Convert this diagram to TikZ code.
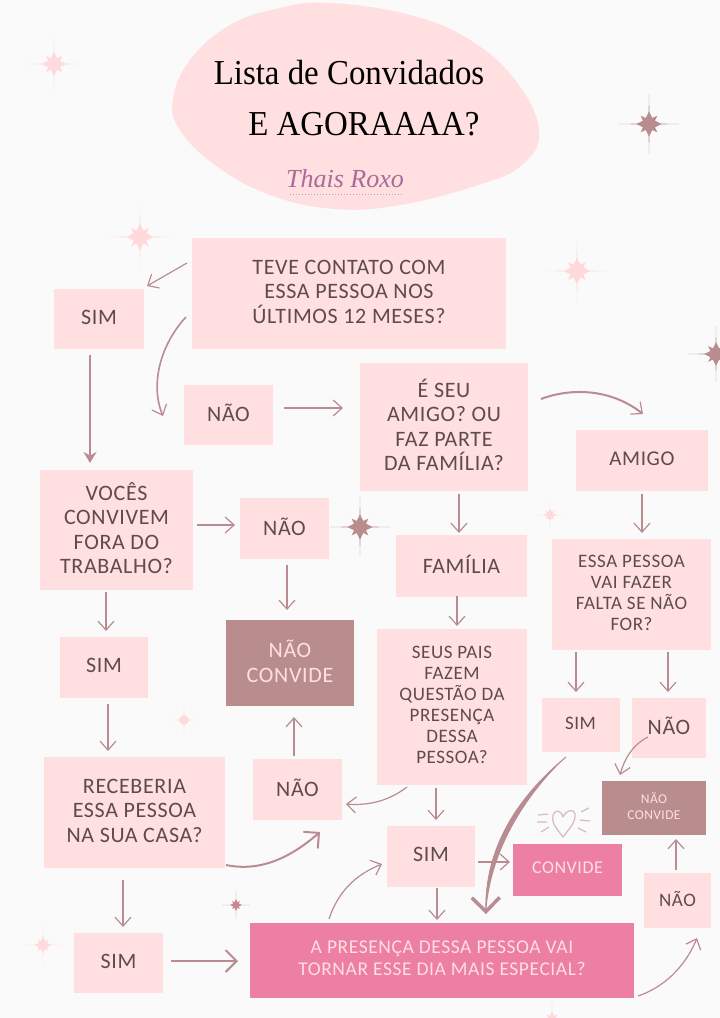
\documentclass[tikz,border=0pt]{standalone}
\usepackage{fontspec}
\setmainfont[LetterSpace=3]{Carlito}
\newfontfamily\titlefont{Liberation Serif}
\newfontfamily\logofont{Liberation Serif}
\definecolor{paper}{HTML}{FBFAFA}
\definecolor{blush}{HTML}{FFDFE0}
\definecolor{dusty}{HTML}{B98D8D}
\definecolor{hotpink}{HTML}{EC7FA3}
\definecolor{ink}{HTML}{5E4B4E}
\definecolor{wire}{HTML}{B98C92}
\definecolor{palestar}{HTML}{FFD9DC}
\usetikzlibrary{arrows.meta}
\tikzset{
  card/.style={fill=blush, text=ink, align=center, inner sep=0pt, font=\fontsize{22}{24.5}\selectfont, execute at end node={\\[-\baselineskip]\rule[-4pt]{0pt}{4pt}}},
  smallcard/.style={card, font=\fontsize{19}{21}\selectfont},
  nogo/.style={card, fill=dusty, text=blush},
  yesgo/.style={card, fill=hotpink, text=blush},
  link/.style={draw=wire, line width=1.2pt, -{Straight Barb[length=9pt,width=16pt,line width=1.2pt]}},
  boldlink/.style={link, line width=2pt, -{Straight Barb[length=11pt,width=22pt,line width=2pt]}},
}
% one four-pointed sparkle: x, y, arm, colour
\newcommand{\sparkle}[4]{
  \fill[#4] (#1,#2-#3) .. controls (#1+#3*0.015,#2-#3*0.3) and (#1+#3*0.02,#2-#3*0.03) .. (#1+#3*0.03,#2-#3*0.02)
    .. controls (#1+#3*0.3,#2-#3*0.015) and (#1+#3*0.3,#2-#3*0.015) .. (#1+#3,#2)
    .. controls (#1+#3*0.3,#2+#3*0.015) and (#1+#3*0.3,#2+#3*0.015) .. (#1+#3*0.03,#2+#3*0.02)
    .. controls (#1+#3*0.015,#2+#3*0.3) and (#1+#3*0.015,#2+#3*0.3) .. (#1,#2+#3)
    .. controls (#1-#3*0.015,#2+#3*0.3) and (#1-#3*0.015,#2+#3*0.3) .. (#1-#3*0.03,#2+#3*0.02)
    .. controls (#1-#3*0.3,#2+#3*0.015) and (#1-#3*0.3,#2+#3*0.015) .. (#1-#3,#2)
    .. controls (#1-#3*0.3,#2-#3*0.015) and (#1-#3*0.3,#2-#3*0.015) .. (#1-#3*0.03,#2-#3*0.02)
    .. controls (#1-#3*0.015,#2-#3*0.3) and (#1-#3*0.015,#2-#3*0.3) .. (#1,#2-#3) -- cycle;
  \fill[#4] (#1,#2-#3*0.42) -- (#1+#3*0.11,#2-#3*0.2) -- (#1+#3*0.28,#2-#3*0.28) -- (#1+#3*0.2,#2-#3*0.11)
    -- (#1+#3*0.42,#2) -- (#1+#3*0.2,#2+#3*0.11) -- (#1+#3*0.28,#2+#3*0.28) -- (#1+#3*0.11,#2+#3*0.2)
    -- (#1,#2+#3*0.42) -- (#1-#3*0.11,#2+#3*0.2) -- (#1-#3*0.28,#2+#3*0.28) -- (#1-#3*0.2,#2+#3*0.11)
    -- (#1-#3*0.42,#2) -- (#1-#3*0.2,#2-#3*0.11) -- (#1-#3*0.28,#2-#3*0.28) -- (#1-#3*0.11,#2-#3*0.2) -- cycle;
}
\begin{document}
\begin{tikzpicture}[x=1pt,y=-1pt]
\fill[paper] (0,0) rectangle (720,1018);
\useasboundingbox (0,0) rectangle (720,1018);
\begin{scope}
\clip (0,0) rectangle (720,1018);
\sparkle{54}{64}{29}{palestar}
\sparkle{649}{124}{30}{dusty}
\sparkle{140}{237}{32}{palestar}
\sparkle{577}{271}{32}{palestar}
\sparkle{716}{354}{28}{dusty}
\sparkle{360}{527}{30}{dusty}
\sparkle{550}{515}{15}{palestar}
\sparkle{184}{720}{15}{palestar}
\sparkle{236}{905}{14}{dusty!75!hotpink}
\sparkle{43}{945}{20}{palestar}
\sparkle{552}{1020}{20}{palestar}
\end{scope}
% title blob
\fill[blush] plot[smooth cycle, tension=.7] coordinates {(330,3) (410,15) (470,40) (515,80) (539,130) (522,165) (475,186) (400,205) (335,209) (270,195) (215,165) (180,130) (173,100) (190,60) (230,25) (280,8)};
\node[font=\titlefont\fontsize{35}{35}\selectfont, text=black, xscale=.94] (title) at (349,73) {Lista de Convidados};
\node[font=\titlefont\fontsize{35}{35}\selectfont, text=black, xscale=.94] (again) at (364,124) {E AGORAAAA?};
\node[font=\logofont\itshape\fontsize{26}{26}\selectfont, text=ink!40!violet!60!blush] (logo) at (345,179) {Thais Roxo};
\draw[ink!50, line width=1pt, dotted] (290,194) -- (402,194);
% boxes
\node[card, minimum width=314pt, minimum height=111pt] (contact) at (349,293.5) {TEVE CONTATO COM\\ESSA PESSOA NOS\\ÚLTIMOS 12 MESES?};
\node[card, minimum width=90pt, minimum height=60pt] (simA) at (99,319) {SIM};
\node[card, minimum width=89pt, minimum height=60pt] (naoA) at (228.5,415) {NÃO};
\node[card, minimum width=168pt, minimum height=128pt] (friend) at (444,427) {É SEU\\AMIGO? OU\\FAZ PARTE\\DA FAMÍLIA?};
\node[card, font=\fontsize{21}{24.5}\selectfont, minimum width=132pt, minimum height=61pt] (amigo) at (642,460.5) {AMIGO};
\node[card, minimum width=153pt, minimum height=120pt] (together) at (116.5,530) {VOCÊS\\CONVIVEM\\FORA DO\\TRABALHO?};
\node[card, minimum width=89pt, minimum height=61pt] (naoB) at (284.5,528.5) {NÃO};
\node[card, minimum width=131pt, minimum height=62pt] (familia) at (461.5,566) {FAMÍLIA};
\node[smallcard, minimum width=159pt, minimum height=111pt] (missed) at (631.5,594.5) {ESSA PESSOA\\VAI FAZER\\FALTA SE NÃO\\FOR?};
\node[card, minimum width=88pt, minimum height=61pt] (simB) at (104,667.5) {SIM};
\node[nogo, minimum width=128pt, minimum height=86pt] (dontA) at (290,663) {NÃO\\CONVIDE};
\node[smallcard, minimum width=150pt, minimum height=156pt] (parents) at (452,707) {SEUS PAIS\\FAZEM\\QUESTÃO DA\\PRESENÇA\\DESSA\\PESSOA?};
\node[card, font=\fontsize{19}{21}\selectfont, minimum width=78pt, minimum height=54pt] (simC) at (580.5,725) {SIM};
\node[card, minimum width=74pt, minimum height=60pt] (naoC) at (669,728) {NÃO};
\node[nogo, font=\fontsize{13.5}{16}\selectfont, minimum width=104pt, minimum height=54pt] (dontB) at (654,808) {NÃO\\CONVIDE};
\node[yesgo, font=\fontsize{18}{22}\selectfont, minimum width=109pt, minimum height=52pt] (invite) at (567.5,870) {CONVIDE};
\node[card, font=\fontsize{19}{21}\selectfont, minimum width=67pt, minimum height=55pt] (naoD) at (677.5,900.5) {NÃO};
\node[card, minimum width=89pt, minimum height=61pt] (naoE) at (297.5,789.5) {NÃO};
\node[card, minimum width=181pt, minimum height=111pt] (home) at (134.5,812.5) {RECEBERIA\\ESSA PESSOA\\NA SUA CASA?};
\node[card, minimum width=89pt, minimum height=60pt] (simD) at (118.5,963) {SIM};
\node[card, minimum width=88pt, minimum height=61pt] (simE) at (431,856.5) {SIM};
\node[yesgo, font=\fontsize{19.5}{22}\selectfont, minimum width=384pt, minimum height=75pt] (special) at (442,960.5) {A PRESENÇA DESSA PESSOA VAI\\TORNAR ESSE DIA MAIS ESPECIAL?};
% heart
\draw[wire!60, line width=1.2pt, line join=round] (563,837) .. controls (556,828) and (551,822) .. (553,815) .. controls (555,809) and (561,810) .. (563,817) .. controls (566,810) and (574,808) .. (575,814) .. controls (576,822) and (569,829) .. (563,837) -- cycle;
\draw[wire!60, line width=1.2pt] (538,815) -- (548,814) (537,822) -- (547,822) (541,832) -- (549,827) (581,812) -- (589,808) (580,820) -- (590,821) (578,828) -- (586,832);
% arrow ends
\coordinate (a1) at (187,263); \coordinate (a2) at (147,286);
\coordinate (b1) at (186,317); \coordinate (b2) at (163,416);
\coordinate (c1) at (90,355);  \coordinate (c2) at (90,463);
\coordinate (d1) at (284,408); \coordinate (d2) at (343,408);
\coordinate (e1) at (541,399); \coordinate (e2) at (643,414);
\coordinate (f1) at (459,494); \coordinate (f2) at (459,533);
\coordinate (g1) at (642,494); \coordinate (g2) at (642,533);
\coordinate (h1) at (197,525); \coordinate (h2) at (235,525);
\coordinate (i1) at (287,565); \coordinate (i2) at (287,610);
\coordinate (j1) at (106,592); \coordinate (j2) at (106,631);
\coordinate (k1) at (457,596); \coordinate (k2) at (457,626);
\coordinate (l1) at (576,652); \coordinate (l2) at (576,692);
\coordinate (m1) at (668,652); \coordinate (m2) at (668,692);
\coordinate (n1) at (108,704); \coordinate (n2) at (108,751);
\coordinate (o1) at (294,756); \coordinate (o2) at (294,717);
\coordinate (p1) at (407,787); \coordinate (p2) at (346,804);
\coordinate (q1) at (436,788); \coordinate (q2) at (436,820);
\coordinate (r1) at (226,865); \coordinate (r2) at (320,832);
\coordinate (s1) at (123,880); \coordinate (s2) at (123,927);
\coordinate (t1) at (171,961); \coordinate (t2) at (238,961);
\coordinate (u1) at (329,919); \coordinate (u2) at (382,864);
\coordinate (v1) at (437,888); \coordinate (v2) at (437,920);
\coordinate (w1) at (478,862); \coordinate (w2) at (510,862);
\coordinate (x1) at (566,757); \coordinate (x2) at (486,914);
\coordinate (y1) at (648,737); \coordinate (y2) at (620,775);
\coordinate (z1) at (676,870); \coordinate (z2) at (676,839);
\coordinate (aa1) at (638,996); \coordinate (aa2) at (697,938);
% arrows
\draw[link] (a1) -- (a2);
\draw[link, line width=1.6pt] (b1) .. controls (160,345) and (150,385) .. (b2);
\draw[link, line width=1.6pt, -{Stealth[length=11pt,width=13pt]}] (c1) -- (c2);
\draw[link, line width=1.6pt] (d1) -- (d2);
\draw[link, line width=2pt] (e1) .. controls (570,388) and (610,388) .. (e2);
\draw[link] (f1) -- (f2);
\draw[link] (g1) -- (g2);
\draw[link] (h1) -- (h2);
\draw[link] (i1) -- (i2);
\draw[link] (j1) -- (j2);
\draw[link] (k1) -- (k2);
\draw[link] (l1) -- (l2);
\draw[link] (m1) -- (m2);
\draw[link] (n1) -- (n2);
\draw[link] (o1) -- (o2);
\draw[link] (p1) .. controls (390,800) and (370,806) .. (p2);
\draw[link] (q1) -- (q2);
\draw[boldlink] (r1) .. controls (260,872) and (290,858) .. (r2);
\draw[link] (s1) -- (s2);
\draw[boldlink] (t1) -- (t2);
\draw[link] (u1) .. controls (338,892) and (355,875) .. (u2);
\draw[link] (v1) -- (v2);
\draw[link] (w1) -- (w2);
\fill[wire] (x1) .. controls (518,795) and (482,850) .. (x2) .. controls (490,850) and (526,795) .. (x1);
\draw[link, line width=1pt, -{Straight Barb[length=14pt,width=28pt,line width=3.5pt]}] (x1) .. controls (520,795) and (485,850) .. (x2);
\draw[link] (y1) .. controls (632,745) and (624,760) .. (y2);
\draw[link] (z1) -- (z2);
\draw[link] (aa1) .. controls (670,985) and (688,960) .. (aa2);
\end{tikzpicture}
\end{document}
